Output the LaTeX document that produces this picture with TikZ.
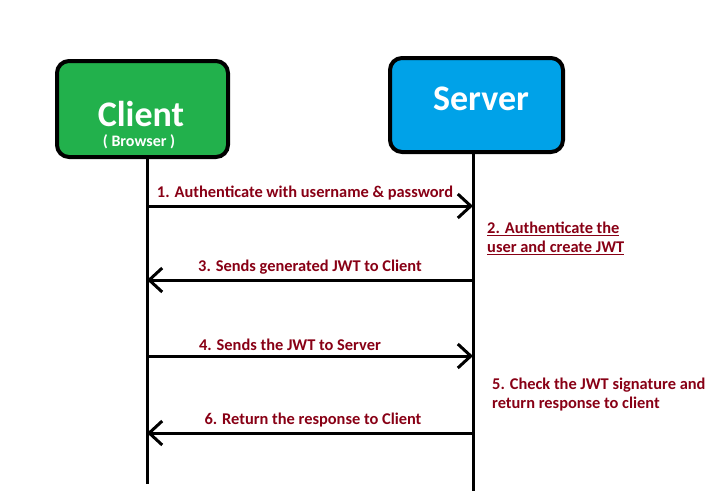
\documentclass[tikz,border=0pt]{standalone}
\usepackage{fontspec}
\setmainfont{Carlito}
\usepackage{tikz}
\usetikzlibrary{arrows.meta,positioning}
\definecolor{ClientGreen}{HTML}{22B14C}
\definecolor{ServerBlue}{HTML}{00A2E8}
\definecolor{MsgRed}{HTML}{880015}

\begin{document}
\begin{tikzpicture}[x=1pt, y=-1pt,
  actor/.style={draw=black, line width=4pt, rounded corners=12pt,
    minimum width=171pt, minimum height=96pt},
  title/.style={text=white, font=\fontsize{36}{20}\selectfont\bfseries, anchor=base, inner sep=0pt},
  life/.style={draw=black, line width=3pt},
  msg/.style={line width=3pt, -{Straight Barb[length=13pt,width=24pt]}},
  msgtxt/.style={text=MsgRed, font=\fontsize{16.4}{19}\selectfont\bfseries},
  note/.style={msgtxt, align=left, anchor=north west, inner sep=0pt}]
  \useasboundingbox (0,0) rectangle (719,491);
  % actors
  \node[actor, fill=ClientGreen] (client) at (142.5,109) {};
  \node[actor, fill=ServerBlue, minimum width=173pt, minimum height=94pt] (server) at (476.5,105) {};
  \node[title, align=center] (clientname) at (141,146.5)
    {Client\\{\fontsize{16}{20}\selectfont\hspace*{-4pt}( Browser )}};
  \node[title] (servername) at (481,110) {Server};
  % lifelines
  \coordinate (cbot) at (147,484);
  \coordinate (sbot) at (473,491);
  \draw[life] (client.south -| cbot) -- (cbot);
  \draw[life] (server.south -| sbot) -- (sbot);
  % message levels
  \coordinate (c1) at (cbot |- 0,206); \coordinate (s1) at (sbot |- 0,206);
  \coordinate (c3) at (cbot |- 0,280); \coordinate (s3) at (sbot |- 0,280);
  \coordinate (c4) at (cbot |- 0,356); \coordinate (s4) at (sbot |- 0,356);
  \coordinate (c6) at (cbot |- 0,433); \coordinate (s6) at (sbot |- 0,433);
  % messages
  \draw[msg] (c1) -- node[msgtxt, above=1pt, xshift=-5pt] (m1) {1. Authenticate with username \& password} (s1);
  \draw[msg] (s3) -- node[msgtxt, above=1pt] (m3) {3. Sends generated JWT to Client} (c3);
  \draw[msg] (c4) -- node[msgtxt, above=1pt, xshift=-20pt] (m4) {4. Sends the JWT to Server} (s4);
  \draw[msg] (s6) -- node[msgtxt, above=1pt, xshift=3pt] (m6) {6. Return the response to Client} (c6);
  % server notes
  \node[note] (n2) at (487,222) {\underline{2. Authenticate the}\\\underline{user and create JWT}};
  \node[note] (n5) at (492,378) {5. Check the JWT signature and\\return response to client};
\end{tikzpicture}
\end{document}
